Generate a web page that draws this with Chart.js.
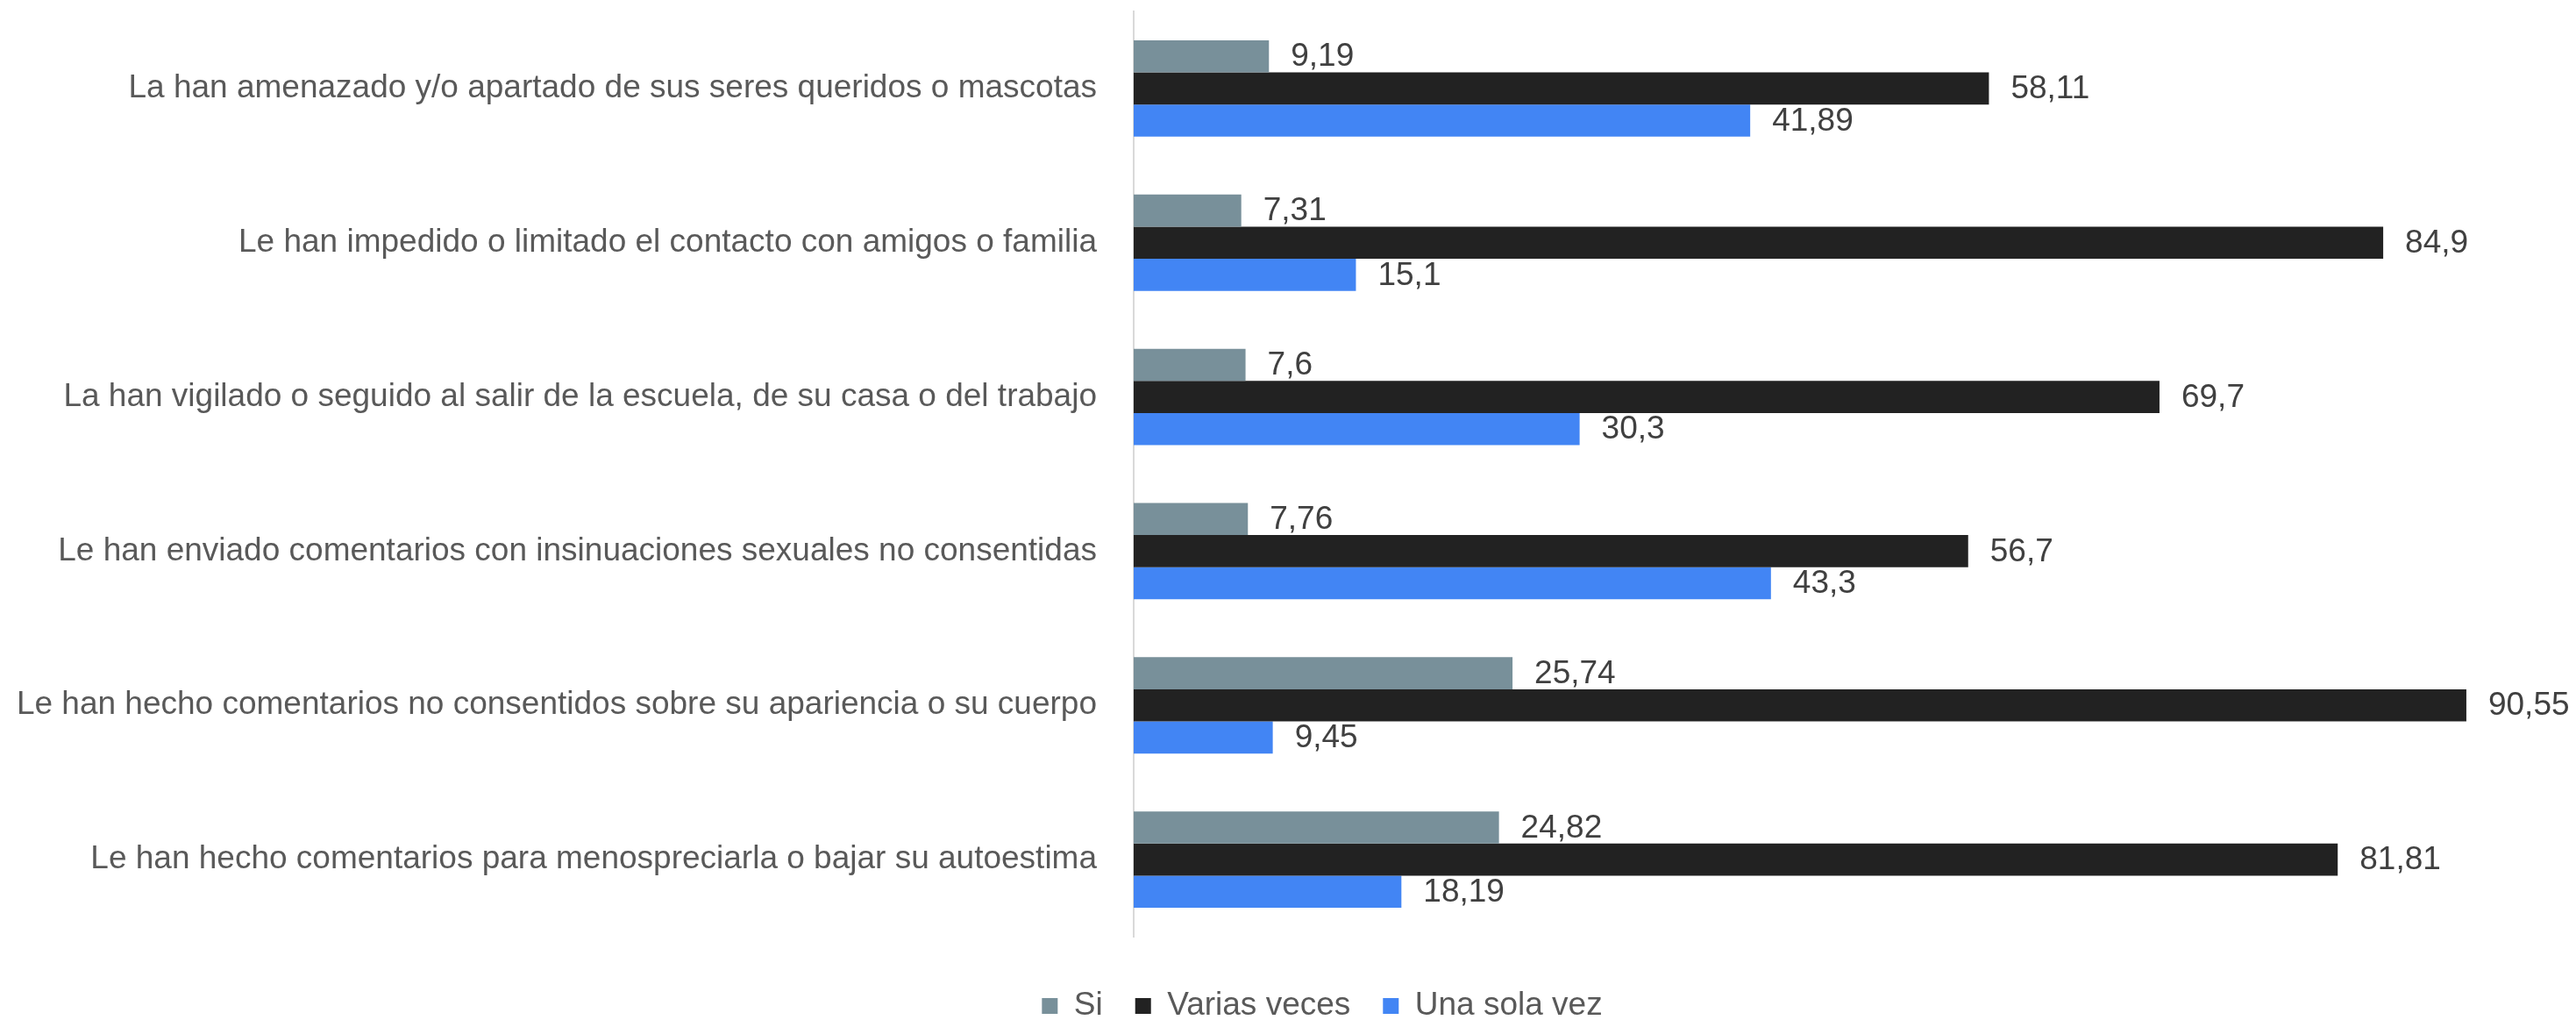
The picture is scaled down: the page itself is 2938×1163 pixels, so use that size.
<!DOCTYPE html>
<html>
<head>
<meta charset="utf-8">
<script src="https://cdn.jsdelivr.net/npm/chart.js@4"></script>
<style>
  html, body { margin: 0; padding: 0; background: #ffffff; }
  #wrap { width: 2938px; height: 1163px; }
</style>
</head>
<body>
<div id="wrap"><canvas id="c" width="2938" height="1163"></canvas></div>
<script>
const categories = [
  "La han amenazado y/o apartado de sus seres queridos o mascotas",
  "Le han impedido o limitado el contacto con amigos o familia",
  "La han vigilado o seguido al salir de la escuela, de su casa o del trabajo",
  "Le han enviado comentarios con insinuaciones sexuales no consentidas",
  "Le han hecho comentarios no consentidos sobre su apariencia o su cuerpo",
  "Le han hecho comentarios para menospreciarla o bajar su autoestima"
];
const seriesNames = ["Si", "Varias veces", "Una sola vez"];
const siValues = [9.19, 7.31, 7.6, 7.76, 25.74, 24.82];
const variasValues = [58.11, 84.9, 69.7, 56.7, 90.55, 81.81];
const unaValues = [41.89, 15.1, 30.3, 43.3, 9.45, 18.19];
const seriesColors = ["#78909A", "#222222", "#4285F4"];

const FONT = "'Liberation Sans', Arial, sans-serif";

const valueLabels = {
  id: 'valueLabels',
  afterDatasetsDraw(chart) {
    const ctx = chart.ctx;
    ctx.save();
    ctx.font = "37px " + FONT;
    ctx.fillStyle = "#404040";
    ctx.textAlign = "left";
    ctx.textBaseline = "middle";
    chart.data.datasets.forEach((ds, di) => {
      const meta = chart.getDatasetMeta(di);
      meta.data.forEach((el, i) => {
        const txt = String(ds.data[i]).replace('.', ',');
        ctx.fillText(txt, el.x + 25, el.y + 1);
      });
    });
    ctx.restore();
  }
};

new Chart(document.getElementById('c'), {
  type: 'bar',
  data: {
    labels: categories,
    datasets: [
      { label: seriesNames[0], data: siValues, backgroundColor: seriesColors[0] },
      { label: seriesNames[1], data: variasValues, backgroundColor: seriesColors[1] },
      { label: seriesNames[2], data: unaValues, backgroundColor: seriesColors[2] }
    ]
  },
  options: {
    indexAxis: 'y',
    responsive: false,
    animation: false,
    devicePixelRatio: 1,
    datasets: { bar: { categoryPercentage: 0.625, barPercentage: 1.0, borderWidth: 0 } },
    layout: { padding: { top: 13, left: 0, right: -78, bottom: -12.5 } },
    scales: {
      x: {
        display: true,
        min: 0,
        max: 98,
        grid: { display: false, drawTicks: false },
        border: { display: false },
        ticks: { display: false },
        afterFit(scale) {
          scale.height = 23.5;
          scale.paddingLeft = 0; scale.paddingRight = 0;
          scale.paddingTop = 0; scale.paddingBottom = 0;
        }
      },
      y: {
        grid: { display: false, drawTicks: false },
        border: { display: true, color: '#d9d9d9', width: 2 },
        ticks: {
          padding: 42,
          color: '#595959',
          font: { family: FONT, size: 37 }
        },
        afterFit(scale) {
          scale.width = 1293;
          scale.paddingTop = 0; scale.paddingBottom = 0;
        }
      }
    },
    plugins: {
      legend: {
        display: true,
        position: 'bottom',
        labels: {
          boxWidth: 18,
          boxHeight: 18,
          padding: 37,
          color: '#595959',
          font: { family: FONT, size: 37 }
        }
      },
      tooltip: { enabled: false }
    }
  },
  plugins: [valueLabels]
});
</script>
</body>
</html>
